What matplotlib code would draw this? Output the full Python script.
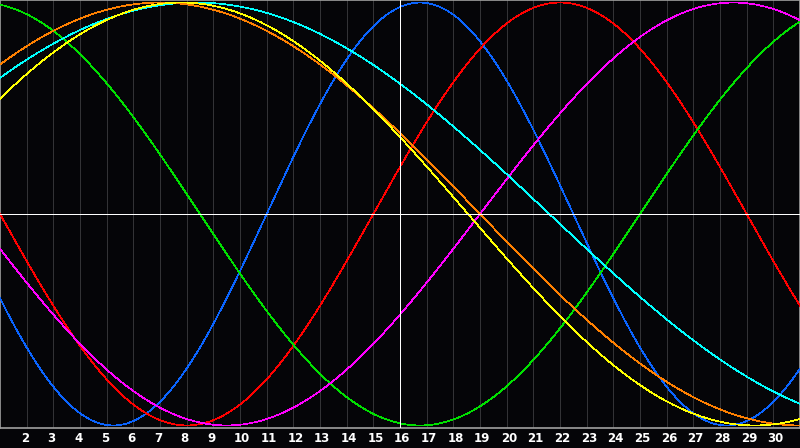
import numpy as np
import matplotlib
matplotlib.use("Agg")
import matplotlib.pyplot as plt

# ---- data ----
day_labels = list(range(2, 31))            # tick labels along the bottom
first_day, last_day = 1, 31                # visible span (label units)
today = 16                                 # white vertical marker
cycle_names = ["physical", "emotional", "intellectual", "intuitive",
               "aesthetic", "awareness", "spiritual"]
cycle_periods = [23, 28, 33, 38, 43, 48, 53]          # days
cycle_zero_up = [11.0, 15.0, 25.0, 19.0, -2.95, -5.0, -4.9]  # day where curve crosses 0 upward
cycle_colors = ["#0a64ff", "#ff0000", "#00e000", "#ff00ff",
                "#ffff00", "#ff8000", "#00ffff"]
draw_order = [0, 1, 2, 3, 6, 5, 4]

BG = "#050508"
GRID = "#333336"
BORDER = "#a0a0a0"

fig = plt.figure(figsize=(8.0, 4.48), dpi=100, facecolor=BG)
ax = fig.add_axes([0, 20 / 448, 1, 428 / 448])
ax.set_facecolor(BG)
ax.set_xlim(first_day, last_day)
ax.set_ylim(-1.012, 1.012)

days = np.linspace(first_day, last_day, 1601)
for i in draw_order:
    vals = np.sin(2 * np.pi * (days - cycle_zero_up[i]) / cycle_periods[i])
    ax.plot(days, vals, color=cycle_colors[i], lw=0.5, zorder=3,
            antialiased=False, label=cycle_names[i])

for d in day_labels:
    ax.axvline(d, color=GRID, lw=0.6, zorder=1, antialiased=False)
ax.axvline(today, color="white", lw=0.6, zorder=4, antialiased=False)
ax.axhline(0, color="white", lw=0.6, zorder=4, antialiased=False)

ax.set_xticks([])
ax.set_yticks([])
for side in ["top", "left", "right", "bottom"]:
    ax.spines[side].set_color(BORDER)
    ax.spines[side].set_linewidth(1.2)

px = (last_day - first_day) / 800.0
for d in day_labels:
    ax.text(d - 6 * px, -1.03, str(d),
            ha="left", va="top", color="white", fontsize=8.5,
            fontweight="bold", family="DejaVu Sans", clip_on=False)

fig.savefig("out.png", dpi=100, facecolor=BG)
